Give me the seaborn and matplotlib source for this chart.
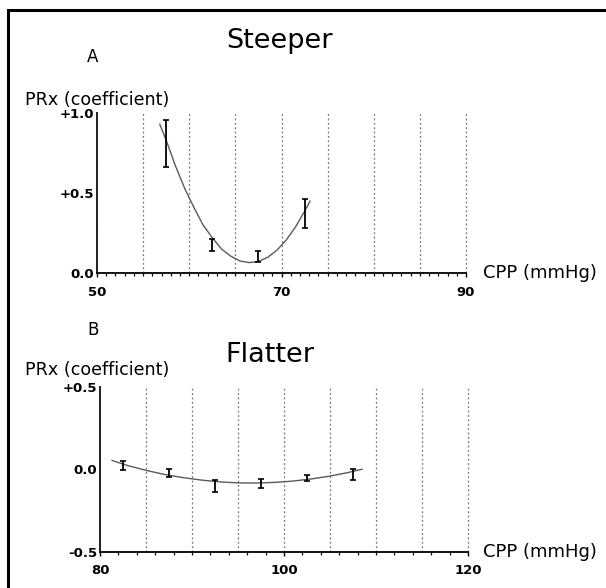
"""
Two-panel PRx vs CPP chart: steeper and flatter U-shaped curves with error bars.
"""

import numpy as np
import pandas as pd
import seaborn as sns
import matplotlib.pyplot as plt
from matplotlib.patches import Rectangle

# Panel A (steeper) - binned means with error bars
a_cpp = [57.5, 62.5, 67.5, 72.5]
a_prx = [0.81, 0.175, 0.105, 0.37]
a_err = [0.145, 0.035, 0.035, 0.09]
# Panel A fitted curve
a_curve_x = [56.8, 57.5, 58.5, 59.5, 60.5, 61.5, 62.5, 63.5, 64.5, 65.5,
             66.5, 67.5, 68.5, 69.5, 70.5, 71.5, 72.5, 73.1]
a_curve_y = [0.93, 0.83, 0.67, 0.53, 0.41, 0.30, 0.22, 0.15, 0.105, 0.075,
             0.065, 0.072, 0.098, 0.142, 0.205, 0.286, 0.385, 0.45]

# Panel B (flatter)
b_cpp = [82.5, 87.5, 92.5, 97.5, 102.5, 107.5]
b_prx = [0.025, -0.02, -0.10, -0.085, -0.05, -0.03]
b_err = [0.025, 0.025, 0.035, 0.028, 0.018, 0.035]
b_curve_x = [81.3, 83, 85, 87, 89, 91, 93, 95, 97, 99, 101, 103, 105, 107, 108.5]
b_curve_y = [0.055, 0.024, -0.005, -0.030, -0.049, -0.064, -0.075, -0.081,
             -0.082, -0.078, -0.070, -0.057, -0.040, -0.018, 0.002]

a_yticks = [0.0, 0.5, 1.0]
a_ylabels = ["0.0", "+0.5", "+1.0"]
b_yticks = [-0.5, 0.0, 0.5]
b_ylabels = ["-0.5", "0.0", "+0.5"]

W, H = 606, 588


def fx(px):
    return px / W


def fy(py):
    return 1 - py / H


def draw_panel(ax, cx, cy, px, py, pe, xlim, ylim, majors, minor_step, yticks, ylabels):
    # dotted vertical guides every 5 mmHg
    for g in np.arange(xlim[0] + 5, xlim[1] + 0.1, 5):
        ax.axvline(g, color="#777777", lw=0.9, ls=(0, (1.5, 2)), zorder=1, clip_on=False)
    curve = pd.DataFrame({"cpp": cx, "prx": cy})
    sns.lineplot(data=curve, x="cpp", y="prx", ax=ax, color="#5a5a5a", lw=1.0,
                 sort=False, zorder=3)
    ax.errorbar(px, py, yerr=pe, fmt="none", ecolor="black", elinewidth=1.3,
                capsize=2, capthick=1.2, zorder=4)
    ax.set_xlim(*xlim)
    ax.set_ylim(*ylim)
    ax.set_xticks(majors)
    ax.set_xticks(np.arange(xlim[0], xlim[1] + 0.1, minor_step), minor=True)
    ax.set_xticklabels([str(m) for m in majors], fontsize=9.5, fontweight="bold",
                       color="black")
    ax.set_yticks(yticks)
    ax.set_yticklabels(ylabels, fontsize=9.5, fontweight="bold", color="black")
    ax.tick_params(axis="x", which="both", bottom=True)
    ax.tick_params(axis="x", which="major", direction="out", length=3, width=1,
                   pad=6, color="black")
    ax.tick_params(axis="x", which="minor", direction="out", length=2.5, width=0.9,
                   color="black")
    ax.tick_params(axis="y", length=0, pad=2)
    ax.set_xlabel("")
    ax.set_ylabel("")
    for s in ["top", "right"]:
        ax.spines[s].set_visible(False)
    ax.spines["bottom"].set_color("black")
    ax.spines["bottom"].set_linewidth(1.3)
    ax.spines["left"].set_color("#222222")
    ax.spines["left"].set_linewidth(1.4)
    ax.spines["left"].set_linestyle((0, (1.2, 0.8)))
    ax.grid(False)


def main():
    sns.set_theme(style="white")
    plt.rcParams["font.family"] = ["DejaVu Sans"]
    plt.rcParams["text.color"] = "black"

    fig = plt.figure(figsize=(W / 100, H / 100), dpi=100)
    fig.patch.set_facecolor("white")

    # Panel A
    ax_a = fig.add_axes([fx(97), fy(273), fx(466) - fx(97), fy(113) - fy(273)])
    draw_panel(ax_a, a_curve_x, a_curve_y, a_cpp, a_prx, a_err,
               (50, 90), (0, 1.0), [50, 70, 90], 1, a_yticks, a_ylabels)

    # Panel B
    ax_b = fig.add_axes([fx(100), fy(552), fx(468) - fx(100), fy(387) - fy(552)])
    draw_panel(ax_b, b_curve_x, b_curve_y, b_cpp, b_prx, b_err,
               (80, 120), (-0.5, 0.5), [80, 100, 120], 2, b_yticks, b_ylabels)

    # Texts
    fig.text(fx(279), fy(41), "Steeper", fontsize=19.5, ha="center", va="center")
    fig.text(fx(93), fy(57), "A", fontsize=12, ha="center", va="center")
    fig.text(fx(25), fy(100), "PRx (coefficient)", fontsize=12.6, ha="left", va="center")
    fig.text(fx(483), fy(273), "CPP (mmHg)", fontsize=13, ha="left", va="center")

    fig.text(fx(270), fy(355), "Flatter", fontsize=19.5, ha="center", va="center")
    fig.text(fx(93), fy(330), "B", fontsize=12, ha="center", va="center")
    fig.text(fx(25), fy(370), "PRx (coefficient)", fontsize=12.6, ha="left", va="center")
    fig.text(fx(483), fy(552), "CPP (mmHg)", fontsize=13, ha="left", va="center")

    # outer frame (top and left edges visible)
    frame = Rectangle((fx(8), -0.1), 1.2, fy(10) + 0.1, transform=fig.transFigure,
                      fill=False, edgecolor="black", lw=2.2, clip_on=False)
    fig.add_artist(frame)

    fig.savefig("out.png", dpi=100, facecolor="white")


if __name__ == "__main__":
    main()
